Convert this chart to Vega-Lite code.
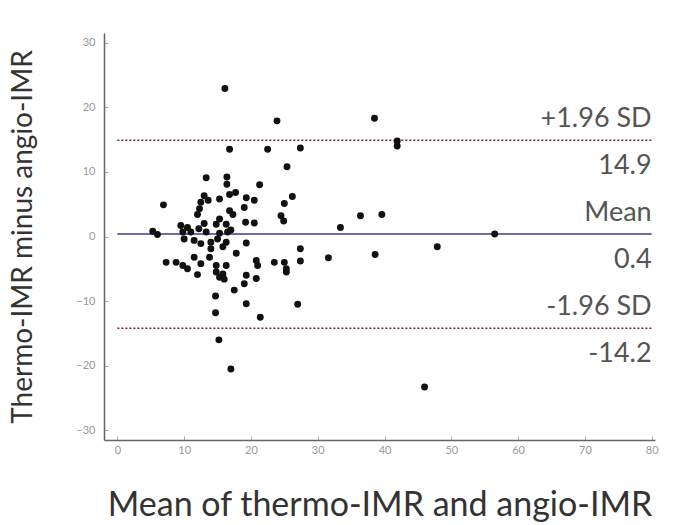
{
  "$schema": "https://vega.github.io/schema/vega-lite/v6.json",
  "autosize": "none",
  "width": 551,
  "height": 407,
  "padding": {"left": 104, "top": 33, "right": 28, "bottom": 85},
  "background": "white",
  "config": {"view": {"stroke": null}, "font": "Lato"},
  "datasets": {
    "pts": [
      {"m": 38.5, "d": 18.3}, {"m": 41.9, "d": 14.8}, {"m": 41.9, "d": 14.0}, {"m": 27.4, "d": 13.7},
      {"m": 36.4, "d": 3.2}, {"m": 39.6, "d": 3.4}, {"m": 33.4, "d": 1.4}, {"m": 56.5, "d": 0.4},
      {"m": 47.9, "d": -1.6}, {"m": 27.4, "d": -1.9}, {"m": 27.4, "d": -3.8}, {"m": 31.6, "d": -3.3},
      {"m": 38.6, "d": -2.8}, {"m": 27.0, "d": -10.5}, {"m": 46.0, "d": -23.3},
      {"m": 16.1, "d": 22.9}, {"m": 23.9, "d": 17.9}, {"m": 16.8, "d": 13.5}, {"m": 22.5, "d": 13.5},
      {"m": 25.4, "d": 10.8}, {"m": 13.3, "d": 9.1}, {"m": 16.4, "d": 9.2}, {"m": 16.4, "d": 8.1},
      {"m": 21.3, "d": 8.0}, {"m": 26.2, "d": 6.2},
      {"m": 6.9, "d": 4.9}, {"m": 13.0, "d": 6.3}, {"m": 12.5, "d": 5.3}, {"m": 12.3, "d": 4.3},
      {"m": 12.0, "d": 3.4}, {"m": 15.3, "d": 5.8}, {"m": 16.8, "d": 6.5}, {"m": 17.7, "d": 6.8},
      {"m": 16.8, "d": 4.0}, {"m": 17.3, "d": 3.4}, {"m": 19.3, "d": 6.0}, {"m": 20.5, "d": 5.6},
      {"m": 19.0, "d": 4.5}, {"m": 25.0, "d": 5.1}, {"m": 24.5, "d": 3.2}, {"m": 24.9, "d": 2.4},
      {"m": 19.2, "d": 2.2}, {"m": 20.5, "d": 2.1}, {"m": 15.3, "d": 2.7}, {"m": 16.3, "d": 1.9},
      {"m": 14.8, "d": 1.9}, {"m": 5.3, "d": 0.8}, {"m": 6.0, "d": 0.3}, {"m": 9.5, "d": 1.7},
      {"m": 10.5, "d": 1.4}, {"m": 9.8, "d": 0.7}, {"m": 11.0, "d": 0.7}, {"m": 13.3, "d": 0.7},
      {"m": 15.3, "d": 0.5}, {"m": 16.5, "d": 0.7}, {"m": 10.0, "d": -0.4}, {"m": 11.5, "d": -0.6},
      {"m": 12.5, "d": -1.1}, {"m": 14.0, "d": -0.9}, {"m": 15.0, "d": -0.4}, {"m": 16.3, "d": -0.9},
      {"m": 19.3, "d": -1.0}, {"m": 14.0, "d": -1.9}, {"m": 15.8, "d": -1.6}, {"m": 17.8, "d": -2.6},
      {"m": 11.5, "d": -3.2}, {"m": 13.8, "d": -3.2}, {"m": 7.3, "d": -4.0}, {"m": 8.8, "d": -4.0},
      {"m": 9.8, "d": -4.5}, {"m": 10.5, "d": -5.0}, {"m": 12.5, "d": -4.2}, {"m": 14.8, "d": -4.5},
      {"m": 16.3, "d": -4.5}, {"m": 20.8, "d": -3.7}, {"m": 21.0, "d": -4.5}, {"m": 23.5, "d": -4.0},
      {"m": 25.0, "d": -4.0}, {"m": 25.3, "d": -5.0}, {"m": 12.0, "d": -5.9}, {"m": 14.8, "d": -5.5},
      {"m": 15.8, "d": -5.8}, {"m": 19.3, "d": -6.0}, {"m": 15.3, "d": -6.3}, {"m": 16.0, "d": -6.6},
      {"m": 20.8, "d": -6.5}, {"m": 19.0, "d": -7.3}, {"m": 17.5, "d": -8.3}, {"m": 25.3, "d": -5.5},
      {"m": 14.7, "d": -9.2}, {"m": 19.3, "d": -10.4}, {"m": 14.7, "d": -11.8}, {"m": 21.4, "d": -12.5},
      {"m": 15.2, "d": -16.0}, {"m": 17.0, "d": -20.5}, {"m": 13.6, "d": 5.6}, {"m": 13.0, "d": 2.0},
      {"m": 12.2, "d": 1.2}, {"m": 17.0, "d": 1.0}
    ],
    "stats": [
      {"stat": "+1.96 SD", "value": 14.9, "label": "14.9", "kind": "limit"},
      {"stat": "Mean", "value": 0.4, "label": "0.4", "kind": "mean"},
      {"stat": "-1.96 SD", "value": -14.2, "label": "-14.2", "kind": "limit"}
    ]
  },
  "layer": [
    {
      "data": {"name": "stats"},
      "transform": [{"filter": "datum.kind === 'limit'"}],
      "mark": {"type": "rule", "color": "#7a2424", "strokeWidth": 1.3, "strokeDash": [2, 2]},
      "encoding": {
        "y": {"field": "value", "type": "quantitative"},
        "x": {"datum": 0},
        "x2": {"datum": 80}
      }
    },
    {
      "data": {"name": "stats"},
      "transform": [{"filter": "datum.kind === 'mean'"}],
      "mark": {"type": "rule", "color": "#6a6ab8", "strokeWidth": 2},
      "encoding": {
        "y": {"field": "value", "type": "quantitative"},
        "x": {"datum": 0},
        "x2": {"datum": 80}
      }
    },
    {
      "data": {"name": "pts"},
      "mark": {"type": "circle", "color": "#111111", "opacity": 1, "size": 48},
      "encoding": {
        "x": {
          "field": "m", "type": "quantitative",
          "scale": {"domain": [-2, 80.5], "nice": false, "zero": false},
          "axis": {
            "title": "Mean of thermo-IMR and angio-IMR",
            "titleFontSize": 34, "titleFontWeight": "normal", "titleColor": "#333333", "titlePadding": 33,
            "values": [0, 5, 10, 15, 20, 25, 30, 35, 40, 45, 50, 55, 60, 65, 70, 75, 80],
            "labelExpr": "datum.value % 10 === 0 ? datum.label : ''",
            "labelFontSize": 11, "labelColor": "#999999", "labelPadding": 8,
            "tickSize": -4, "tickColor": "#aaaaaa",
            "domainColor": "#666666", "domainWidth": 1.5, "grid": false
          }
        },
        "y": {
          "field": "d", "type": "quantitative",
          "scale": {"domain": [-31.5, 31.5], "nice": false, "zero": false},
          "axis": {
            "title": "Thermo-IMR minus angio-IMR",
            "titleFontSize": 28, "titleFontWeight": "normal", "titleColor": "#333333", "titlePadding": 38,
            "values": [-30, -25, -20, -15, -10, -5, 0, 5, 10, 15, 20, 25, 30],
            "labelExpr": "datum.value % 10 === 0 ? datum.label : ''",
            "labelFontSize": 11, "labelColor": "#999999", "labelPadding": 13,
            "tickSize": -4, "tickColor": "#aaaaaa",
            "domainColor": "#666666", "domainWidth": 1.5, "grid": false
          }
        }
      }
    },
    {
      "data": {"name": "stats"},
      "mark": {"type": "text", "align": "right", "baseline": "middle", "dy": -21, "fontSize": 27, "color": "#555555"},
      "encoding": {
        "x": {"datum": 80},
        "y": {"field": "value", "type": "quantitative"},
        "text": {"field": "stat"}
      }
    },
    {
      "data": {"name": "stats"},
      "mark": {"type": "text", "align": "right", "baseline": "middle", "dy": 26, "fontSize": 27, "color": "#555555"},
      "encoding": {
        "x": {"datum": 80},
        "y": {"field": "value", "type": "quantitative"},
        "text": {"field": "label"}
      }
    }
  ]
}
